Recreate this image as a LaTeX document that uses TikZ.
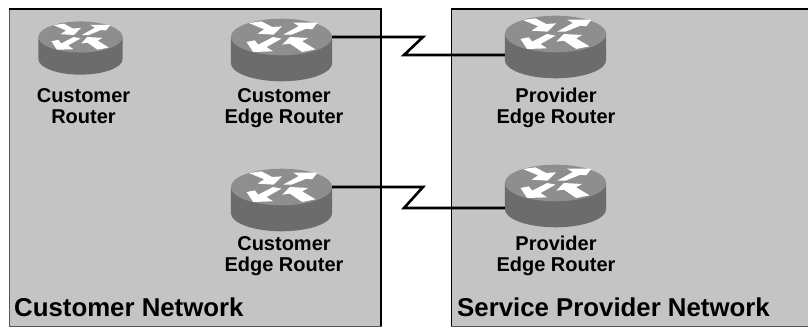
\documentclass[tikz,border=0pt]{standalone}
\usepackage{fontspec}
\setmainfont{Liberation Sans}
\definecolor{panelgray}{HTML}{C4C4C4}
\definecolor{edgegray}{HTML}{555555}
\definecolor{routertop}{HTML}{8E8E8E}
\definecolor{routerside}{HTML}{6C6C6C}
\tikzset{
    routerlabel/.style={font=\bfseries\fontsize{20}{21.5}\selectfont, align=center, text=black},
    netlabel/.style={font=\bfseries\fontsize{25.8}{27}\selectfont, anchor=west, text=black},
    wan/.style={line width=2.6pt, black, line join=miter},
    router/.pic={
        \def\rx{50.7}
        \def\ry{18.3}
        \def\hgt{26}
        \fill[routerside] (-\rx,0) -- (-\rx,-\hgt) arc[start angle=180, end angle=360, x radius=\rx, y radius=\ry] -- (\rx,0) -- cycle;
        \fill[routertop] (0,0) ellipse[x radius=\rx, y radius=\ry];
        \begin{scope}[x=0.3333pt, y=-0.3333pt, shift={(-170,-75)}]
            \fill[white] (72,33) -- (110,28) -- (142,45) -- (172,43) -- (146,68) -- (98,65) -- (118,52) -- cycle;
            \fill[white] (175,68) -- (200,68) -- (245,50) -- (262,52) -- (278,32) -- (205,32) -- (222,42) -- cycle;
            \fill[white] (65,90) -- (85,120) -- (145,118) -- (125,105) -- (170,80) -- (145,75) -- (100,98) -- (90,85) -- cycle;
            \fill[white] (172,98) -- (195,75) -- (250,78) -- (232,88) -- (272,112) -- (232,120) -- (195,95) -- cycle;
        \end{scope}
        \coordinate (-east) at (\rx,0);
        \coordinate (-west) at (-\rx,0);
    }
}
\begin{document}
\begin{tikzpicture}[x=1pt, y=1pt]
    \useasboundingbox (0,0) rectangle (808,327);

    \fill[panelgray, draw=edgegray, line width=1pt] (9,1) rectangle (381,318);
    \draw[black, line width=1.6pt] (9,318) -- (381,318) -- (381,1);
    \fill[panelgray, draw=edgegray, line width=1pt] (451,1) rectangle (815,318);
    \draw[black, line width=1.6pt] (451,318) -- (808,318);
    \draw[black, line width=1pt] (451,318) -- (451,1);

    \pic (cr) at (80.5,290) [xscale=0.83, yscale=0.85] {router};
    \pic (ce1) at (281.5,290) {router};
    \pic (ce2) at (281.5,140) {router};
    \pic (pe1) at (555.5,293) {router};
    \pic (pe2) at (555.5,144) {router};

    \coordinate (bend1a) at (423,290);
    \coordinate (bend1b) at (404,272);
    \coordinate (bend2a) at (423,140);
    \coordinate (bend2b) at (404,119);
    \draw[wan] (ce1-east) -- (bend1a) -- (bend1b) -- (pe1-west |- bend1b);
    \draw[wan] (ce2-east) -- (bend2a) -- (bend2b) -- (pe2-west |- bend2b);

    \node[routerlabel] (crtext) at (83.5,221) {Customer\\Router};
    \node[routerlabel] (ce1text) at (284,219) {Customer\\Edge Router};
    \node[routerlabel] (ce2text) at (284,71) {Customer\\Edge Router};
    \node[routerlabel] (pe1text) at (556,219) {Provider\\Edge Router};
    \node[routerlabel] (pe2text) at (556,71) {Provider\\Edge Router};

    \node[netlabel, inner sep=0pt] (custnet) at (14,20) {Customer Network};
    \node[netlabel, inner sep=0pt] (provnet) at (457,20) {Service Provider Network};
\end{tikzpicture}
\end{document}
